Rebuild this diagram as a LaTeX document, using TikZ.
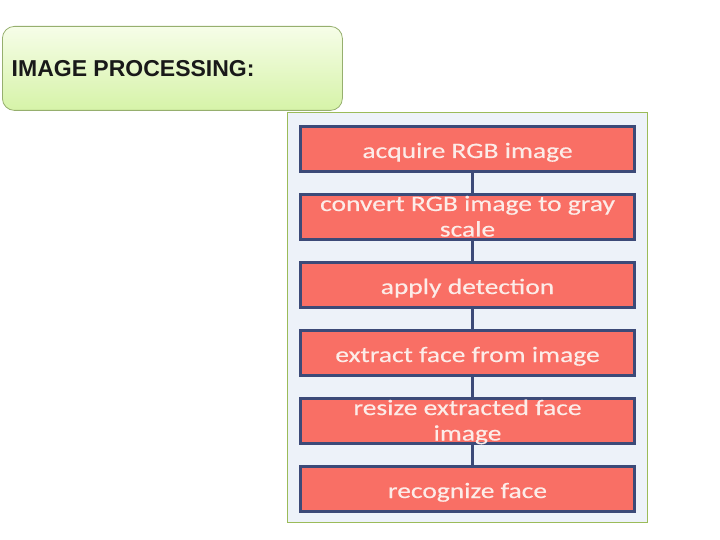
\documentclass[tikz,border=0pt]{standalone}
\usepackage{fontspec}
\setmainfont{Liberation Sans}
\newfontfamily\boxfont[FakeStretch=1.25,FakeBold=0.4]{Carlito}
\usetikzlibrary{positioning}
\definecolor{boxfill}{RGB}{249,111,101}
\definecolor{boxline}{RGB}{60,74,120}
\definecolor{panelfill}{RGB}{237,242,249}
\definecolor{panelline}{RGB}{155,187,89}
\definecolor{titletop}{RGB}{246,253,232}
\definecolor{titlebot}{RGB}{214,243,168}
\definecolor{titleline}{RGB}{150,175,110}
\definecolor{boxtext}{RGB}{252,236,232}
\tikzset{
  stepbox/.style={draw=boxline, line width=3pt, fill=boxfill, minimum width=334pt,
    minimum height=45pt, inner sep=0pt},
  steptext/.style={align=center, text=boxtext, inner sep=0pt, anchor=base,
    font=\boxfont\fontsize{22}{25.5}\selectfont},
  link/.style={draw=boxline, line width=3pt},
}
\begin{document}
\begin{tikzpicture}[x=1pt,y=-1pt]
\useasboundingbox (0,0) rectangle (720,540);
\node[draw=titleline, line width=0.8pt, rounded corners=12pt, top color=titletop, bottom color=titlebot,
  minimum width=340pt, minimum height=84pt, anchor=north west] (title) at (2,26) {};
\node[anchor=west, font=\bfseries\fontsize{23}{26}\selectfont, inner sep=0pt, text=black!90] (titletext) at (11.5,69) {IMAGE PROCESSING:};
\node[draw=panelline, line width=1pt, fill=panelfill, minimum width=360pt, minimum height=410pt,
  anchor=north west, inner sep=0pt] (panel) at (287,112) {};
\node[stepbox] (s1) at (467.5,149) {};
\node[stepbox] (s2) at (467.5,217) {};
\node[stepbox] (s3) at (467.5,285) {};
\node[stepbox] (s4) at (467.5,353) {};
\node[stepbox] (s5) at (467.5,421) {};
\node[stepbox] (s6) at (467.5,489) {};
\foreach \a/\b in {s1/s2,s2/s3,s3/s4,s4/s5,s5/s6}
  \draw[link] ([xshift=5pt]\a.south) -- ([xshift=5pt]\b.north);
\node[steptext] (s1t) at ([yshift=-9pt]s1.center) {acquire RGB image};
\node[steptext] (s2t) at ([yshift=-19.5pt]s2.center) {convert RGB image to gray\\scale};
\node[steptext] (s3t) at ([yshift=-9pt]s3.center) {apply detection};
\node[steptext] (s4t) at ([yshift=-9pt]s4.center) {extract face from image};
\node[steptext] (s5t) at ([yshift=-19.5pt]s5.center) {resize extracted face\\image};
\node[steptext] (s6t) at ([yshift=-9pt]s6.center) {recognize face};
\end{tikzpicture}
\end{document}
